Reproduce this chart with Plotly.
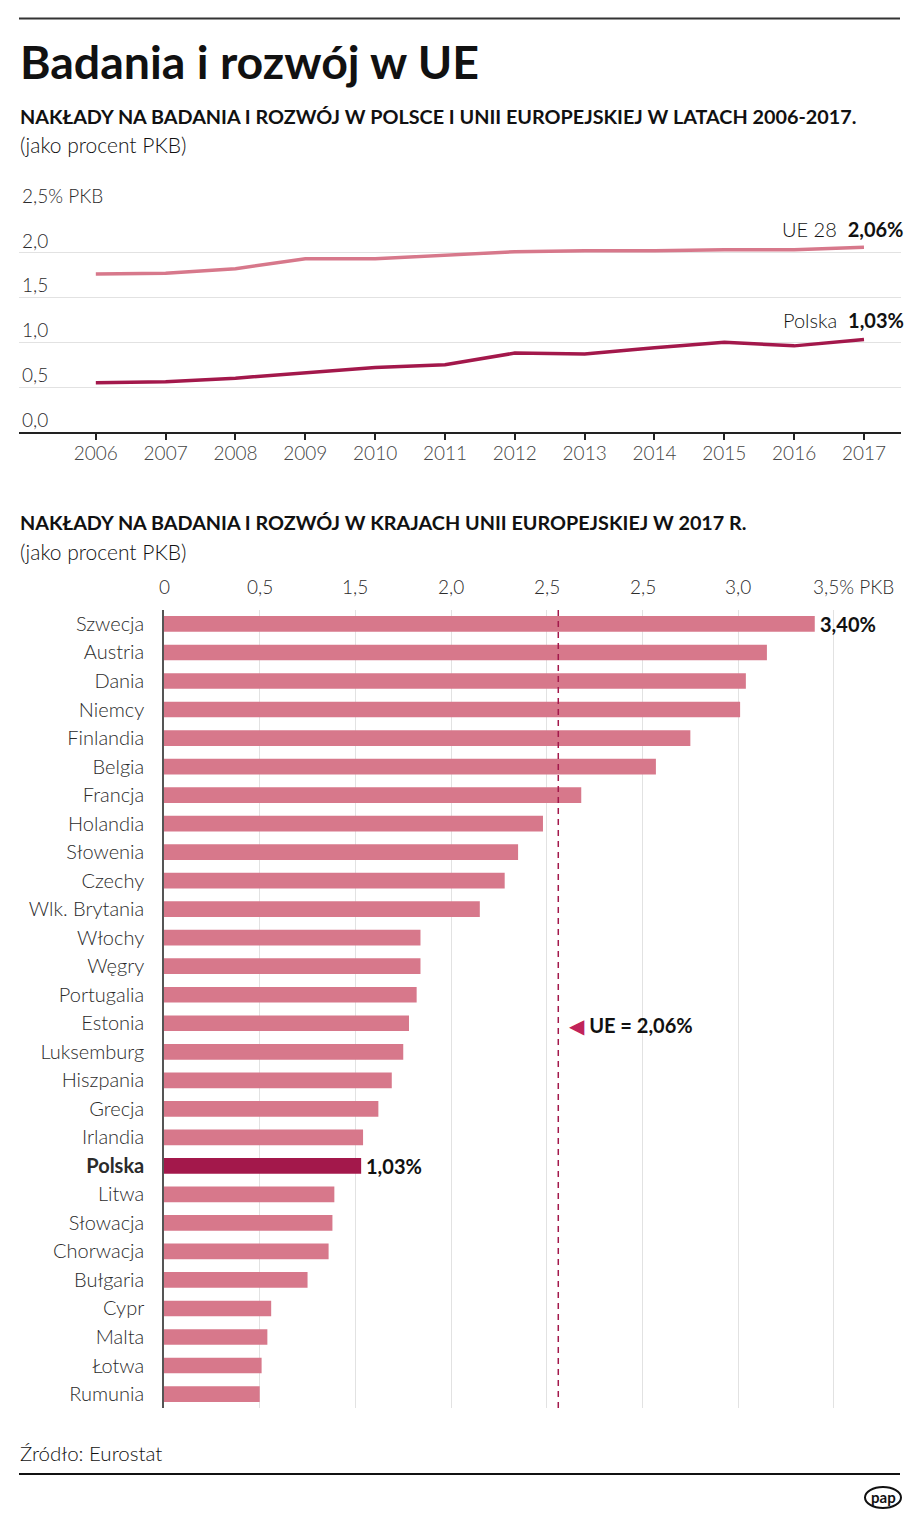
import plotly.graph_objects as go

# reference canvas (pixels) and actual figure size (page body has an 8px margin)
W, H = 920, 1519
OFF = 8
FW, FH = W - OFF, H - OFF
FONT = "Lato"

# ---------------- data ----------------
years = [2006, 2007, 2008, 2009, 2010, 2011, 2012, 2013, 2014, 2015, 2016, 2017]
ue28 = [1.76, 1.77, 1.82, 1.93, 1.93, 1.97, 2.01, 2.02, 2.02, 2.03, 2.03, 2.06]
polska = [0.55, 0.56, 0.60, 0.66, 0.72, 0.75, 0.88, 0.87, 0.94, 1.00, 0.96, 1.03]
top_ytick_vals = [0, 0.5, 1.0, 1.5, 2.0, 2.5]
top_ytick_text = ["0,0", "0,5", "1,0", "1,5", "2,0", "2,5% PKB"]

countries = ["Szwecja", "Austria", "Dania", "Niemcy", "Finlandia", "Belgia", "Francja",
             "Holandia", "Słowenia", "Czechy", "Wlk. Brytania", "Włochy", "Węgry",
             "Portugalia", "Estonia", "Luksemburg", "Hiszpania", "Grecja", "Irlandia",
             "Polska", "Litwa", "Słowacja", "Chorwacja", "Bułgaria", "Cypr", "Malta",
             "Łotwa", "Rumunia"]
values_2017 = [3.40, 3.15, 3.04, 3.01, 2.75, 2.57, 2.18, 1.98, 1.85, 1.78, 1.65, 1.34,
               1.34, 1.32, 1.28, 1.25, 1.19, 1.12, 1.04, 1.03, 0.89, 0.88, 0.86, 0.75,
               0.56, 0.54, 0.51, 0.50]
ue_avg = 2.06
bar_tick_vals = [0, 0.5, 1.0, 1.5, 2.0, 2.5, 3.0, 3.5]
bar_tick_text = ["0", "0,5", "1,5", "2,0", "2,5", "2,5", "3,0", "3,5% PKB"]

# ---------------- styles ----------------
C_LIGHT = "#d7788b"
C_DARK = "#a3184b"
C_GRID = "#e2e2e2"
C_TEXT = "#2b2b2b"


def px(x):
    return (x - OFF) / FW


def py(y):
    return 1 - (y - OFF) / FH


fig = go.Figure()

# top chart lines
fig.add_trace(go.Scatter(x=years, y=ue28, mode="lines", line=dict(color=C_LIGHT, width=3.5),
                         xaxis="x", yaxis="y", hoverinfo="skip", showlegend=False))
fig.add_trace(go.Scatter(x=years, y=polska, mode="lines", line=dict(color=C_DARK, width=3.5),
                         xaxis="x", yaxis="y", hoverinfo="skip", showlegend=False))

# bottom bar chart
bar_colors = [C_DARK if c == "Polska" else C_LIGHT for c in countries]
fig.add_trace(go.Bar(x=values_2017, y=countries, orientation="h",
                     marker=dict(color=bar_colors, line=dict(width=0)),
                     width=0.55, xaxis="x2", yaxis="y2", hoverinfo="skip", showlegend=False))

annotations = []

# top y labels
for v, t in zip(top_ytick_vals, top_ytick_text):
    annotations.append(dict(x=px(20), xref="paper", y=v, yref="y", text=t, showarrow=False,
                            xanchor="left", yanchor="bottom", yshift=-1,
                            font=dict(size=19, color=C_TEXT, family=FONT, weight=300)))

# end labels top chart
annotations.append(dict(x=px(906), xref="paper", y=ue28[-1], yref="y",
                        text="UE 28  <b>2,06%</b>", showarrow=False, xanchor="right",
                        yanchor="bottom", yshift=4,
                        font=dict(size=20, color="#111", family=FONT, weight=300)))
annotations.append(dict(x=px(906), xref="paper", y=polska[-1], yref="y",
                        text="Polska  <b>1,03%</b>", showarrow=False, xanchor="right",
                        yanchor="bottom", yshift=6,
                        font=dict(size=20, color="#111", family=FONT, weight=300)))

# bottom x labels
for v, t in zip(bar_tick_vals, bar_tick_text):
    if t.endswith("PKB"):
        annotations.append(dict(x=v, xref="x2", y=py(586), yref="paper", text=t, showarrow=False,
                                xanchor="left", yanchor="middle", xshift=-23,
                                font=dict(size=19, color=C_TEXT, family=FONT, weight=300)))
    else:
        annotations.append(dict(x=v, xref="x2", y=py(586), yref="paper", text=t, showarrow=False,
                                xanchor="center", yanchor="middle",
                                font=dict(size=19, color=C_TEXT, family=FONT, weight=300)))

# bar value labels
for c, v in zip(countries, values_2017):
    if c in ("Szwecja", "Polska"):
        annotations.append(dict(x=v, xref="x2", y=c, yref="y2",
                                text="<b>" + f"{v:.2f}".replace(".", ",") + "%</b>",
                                showarrow=False, xanchor="left", yanchor="middle", xshift=3,
                                font=dict(size=20, color="#111", family=FONT)))

# UE average label
annotations.append(dict(x=ue_avg, xref="x2", y="Estonia", yref="y2",
                        text="<span style='color:#c0235a'>◀</span> <b>UE = 2,06%</b>",
                        showarrow=False, xanchor="left", yanchor="middle", xshift=9, yshift=-2,
                        font=dict(size=20, color="#111", family=FONT)))

# titles and texts
texts = [
    ("<b>Badania i rozwój w UE</b>", 61, 46.5, 700),
    ("<b>NAKŁADY NA BADANIA I ROZWÓJ W POLSCE I UNII EUROPEJSKIEJ W LATACH 2006-2017.</b>", 116, 19.8, 700),
    ("(jako procent PKB)", 145, 21, 300),
    ("<b>NAKŁADY NA BADANIA I ROZWÓJ W KRAJACH UNII EUROPEJSKIEJ W 2017 R.</b>", 522, 19.8, 700),
    ("(jako procent PKB)", 551, 21, 300),
    ("Źródło: Eurostat", 1453, 20.5, 300),
]
for t, y, s, w in texts:
    annotations.append(dict(x=px(18), xref="paper", y=py(y), yref="paper", text=t, showarrow=False,
                            xanchor="left", yanchor="middle",
                            font=dict(size=s, color="#111", family=FONT, weight=w)))

# pap logo text
annotations.append(dict(x=px(883), xref="paper", y=py(1497), yref="paper", text="<b>pap</b>",
                        showarrow=False, xanchor="center", yanchor="middle",
                        font=dict(size=15, color="#111", family=FONT)))

shapes = [
    dict(type="line", xref="paper", yref="paper", x0=px(19), x1=px(900), y0=py(18.5), y1=py(18.5),
         line=dict(color="#333", width=2)),
    dict(type="line", xref="paper", yref="paper", x0=px(19), x1=px(900), y0=py(1474), y1=py(1474),
         line=dict(color="#111", width=2)),
    dict(type="line", xref="x2", yref="paper", x0=ue_avg, x1=ue_avg, y0=py(1408), y1=py(605),
         line=dict(color=C_DARK, width=1.5, dash="6px,5px")),
    dict(type="circle", xref="paper", yref="paper", x0=px(865), x1=px(901), y0=py(1508), y1=py(1487),
         line=dict(color="#111", width=2)),
]

fig.update_layout(
    width=FW, height=FH,
    margin=dict(l=0, r=0, t=0, b=0),
    paper_bgcolor="white", plot_bgcolor="white",
    font=dict(family=FONT, color=C_TEXT, size=18),
    showlegend=False,
    annotations=annotations,
    shapes=shapes,
    xaxis=dict(domain=[px(19), px(901)], range=[2004.9, 2017.53], tickvals=years,
               ticktext=[str(y) for y in years], ticks="outside", ticklen=6, tickwidth=2,
               tickcolor="#222", showline=True, linecolor="#222", linewidth=2,
               showgrid=False, zeroline=False, anchor="y", ticklabelstandoff=-3,
               tickfont=dict(size=19, color="#444", family=FONT, weight=300), fixedrange=True),
    yaxis=dict(domain=[py(432), py(207.7)], range=[0, 2.5], tickvals=top_ytick_vals,
               showticklabels=False, showgrid=True, gridcolor=C_GRID, gridwidth=1.2,
               zeroline=False, showline=False, anchor="x", fixedrange=True),
    xaxis2=dict(domain=[px(164), px(164 + 3.6 * 191.4)], range=[0, 3.6], tickvals=bar_tick_vals[1:],
                showticklabels=False, showgrid=True, gridcolor=C_GRID, gridwidth=1.2,
                zeroline=False, showline=False, anchor="y2", fixedrange=True),
    yaxis2=dict(domain=[py(1408.3), py(609.7)], range=[27.5, -0.5], type="category",
                tickvals=countries,
                ticktext=["<b>Polska</b>" if c == "Polska" else c for c in countries],
                ticks="", ticklabelstandoff=14, showline=True, linecolor="#555", linewidth=1.5,
                showgrid=False, zeroline=False, anchor="x2",
                tickfont=dict(size=20, color=C_TEXT, family=FONT, weight=300), fixedrange=True),
)

fig.write_html("out.html")
